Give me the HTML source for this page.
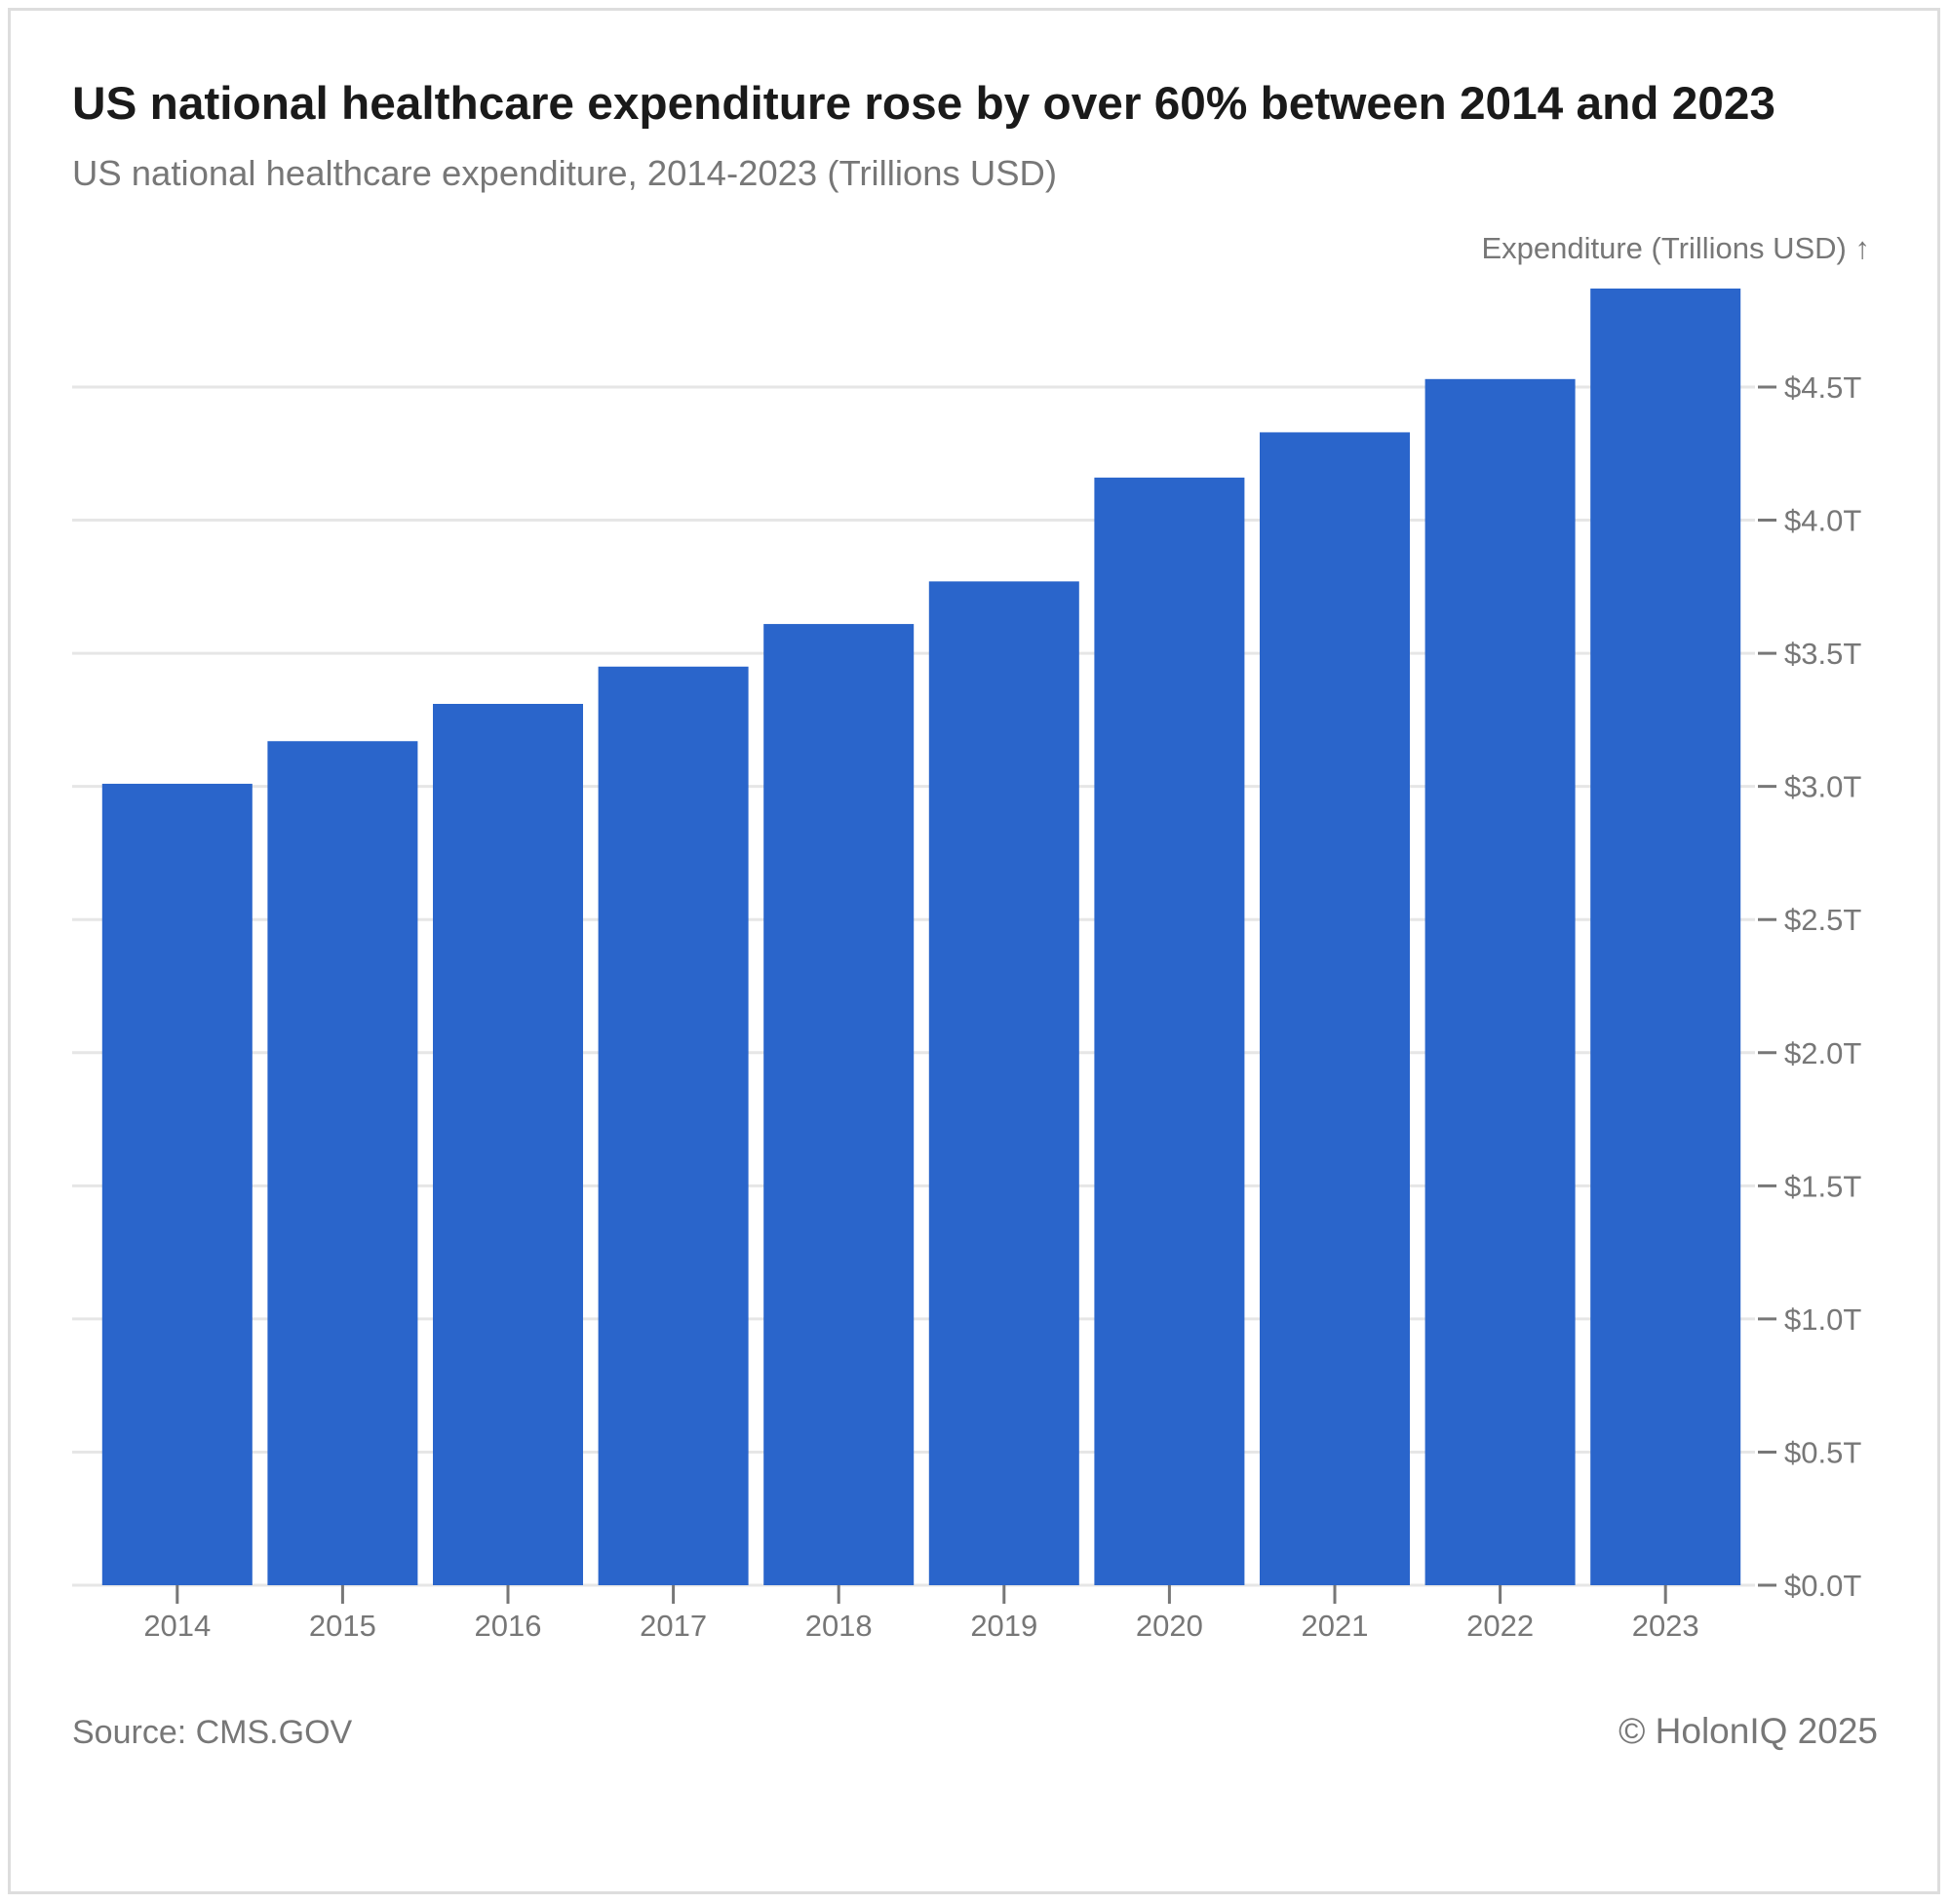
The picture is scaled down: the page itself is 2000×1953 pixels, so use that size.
<!DOCTYPE html>
<html><head><meta charset="utf-8"><style>
html,body{margin:0;padding:0;background:#fff;}
body{width:2000px;height:1953px;position:relative;overflow:hidden;font-family:"Liberation Sans",sans-serif;}
</style></head><body>
<div style="position:absolute;left:8px;top:8px;width:1982px;height:1935px;border:3px solid #ddd;box-sizing:border-box;"></div>
<svg id="chart" width="2000" height="1953" style="position:absolute;left:0;top:0;">
<text x="74" y="122" font-size="47" font-weight="600" fill="#1a1a1a" textLength="1747" lengthAdjust="spacingAndGlyphs" font-family="Liberation Sans, sans-serif">US national healthcare expenditure rose by over 60% between 2014 and 2023</text>
<text x="74" y="190" font-size="36" fill="#777" textLength="1010" lengthAdjust="spacingAndGlyphs" font-family="Liberation Sans, sans-serif">US national healthcare expenditure, 2014-2023 (Trillions USD)</text>
<text x="1918" y="265" font-size="31" fill="#777" text-anchor="end" font-family="Liberation Sans, sans-serif">Expenditure (Trillions USD) ↑</text>
<g id="grid"></g><g id="bars"></g><g id="yaxis"></g><g id="xaxis"></g>
<text x="74" y="1788" font-size="34" fill="#777" font-family="Liberation Sans, sans-serif">Source: CMS.GOV</text>
<text x="1926" y="1788" font-size="37" fill="#777" text-anchor="end" font-family="Liberation Sans, sans-serif">© HolonIQ 2025</text>
</svg>
<script>
const categories = ["2014","2015","2016","2017","2018","2019","2020","2021","2022","2023"];
const values = [3.01,3.17,3.31,3.45,3.61,3.77,4.16,4.33,4.53,4.87];
const yTicks = [0,0.5,1,1.5,2,2.5,3,3.5,4,4.5];
const yTickLabels = ["$0.0T","$0.5T","$1.0T","$1.5T","$2.0T","$2.5T","$3.0T","$3.5T","$4.0T","$4.5T"];
const NS="http://www.w3.org/2000/svg";
const y0=1626, pxPerUnit=(1626-397)/4.5;
function y(v){return y0-v*pxPerUnit;}
const bandStart=97, band=(1793-97)/categories.length, barW=154;
function x(i){return bandStart+i*band+(band-barW)/2;}
function mk(tag,attrs,parent){const e=document.createElementNS(NS,tag);for(const k in attrs)e.setAttribute(k,attrs[k]);parent.appendChild(e);return e;}
const grid=document.getElementById('grid'),bars=document.getElementById('bars'),ya=document.getElementById('yaxis'),xa=document.getElementById('xaxis');
yTicks.forEach((t,i)=>{
  const l=mk('line',{x1:74,x2:1800,y1:y(t),y2:y(t),stroke:'#e6e6e6','stroke-width':3},grid);
  
  
  const tk=mk('line',{x1:1803,x2:1822,y1:y(t),y2:y(t),stroke:'#777','stroke-width':3},ya);
  
  
  const tx=mk('text',{x:1830,y:y(t)+11,'font-size':31,fill:'#777'},ya);
  
  
  tx.textContent=yTickLabels[i];
});
categories.forEach((c,i)=>{
  const r=mk('rect',{x:x(i),y:y(values[i]),width:barW,height:y0-y(values[i]),fill:'#2a65cb'},bars);
  
  
  const cx=x(i)+barW/2;
  const tk=mk('line',{x1:cx,x2:cx,y1:y0,y2:y0+19,stroke:'#777','stroke-width':3},xa);
  
  
  const tx=mk('text',{x:cx,y:1678,'font-size':31,fill:'#777','text-anchor':'middle'},xa);
  
  
  tx.textContent=c;
});
</script>
</body></html>
